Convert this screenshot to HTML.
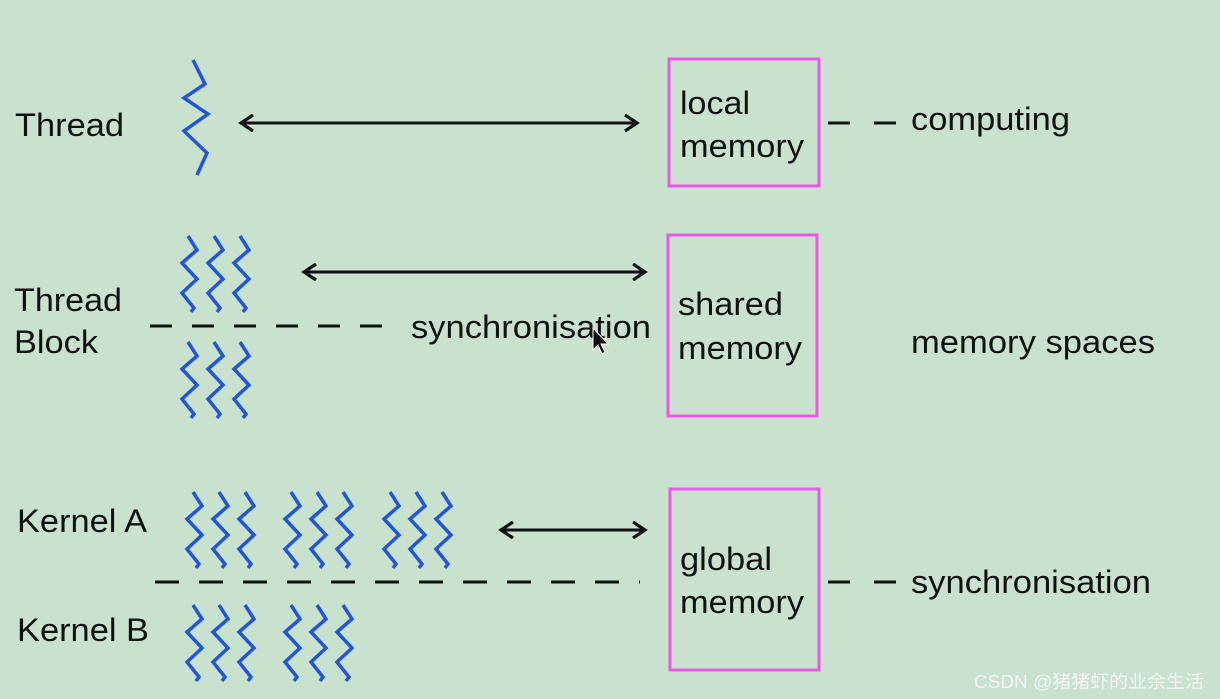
<!DOCTYPE html>
<html><head><meta charset="utf-8"><style>
html,body{margin:0;padding:0;background:#c9e2cd;}
svg{display:block}
text{font-family:"Liberation Sans",Arial,sans-serif;font-size:32px;fill:#111;}
</style></head><body>
<svg width="1220" height="699" viewBox="0 0 1220 699" xmlns="http://www.w3.org/2000/svg">
<defs>
<path id="s" d="M0,0 L9,14 L-6,27 L9,43 L-6,57 L6,72 L3,76" fill="none" stroke="#2255dd" stroke-width="3.5" stroke-linejoin="miter"/>
<marker id="a" markerWidth="16" markerHeight="18" refX="13" refY="9" orient="auto-start-reverse" markerUnits="userSpaceOnUse">
<path d="M1,1 L13,9 L1,17" fill="none" stroke="#111" stroke-width="3.2"/></marker>
</defs>
<rect width="1220" height="699" fill="#c9e2cd"/>
<path d="M193,60 L205,84 L184,98 L208,114 L184,131 L207,153 L197,175" fill="none" stroke="#2255dd" stroke-width="3.5"/>
<g>
<use href="#s" x="188" y="236"/><use href="#s" x="214" y="236"/><use href="#s" x="240" y="236"/>
<use href="#s" x="188" y="342"/><use href="#s" x="214" y="342"/><use href="#s" x="240" y="342"/>
<use href="#s" x="193" y="492"/><use href="#s" x="219" y="492"/><use href="#s" x="245" y="492"/>
<use href="#s" x="291" y="492"/><use href="#s" x="317" y="492"/><use href="#s" x="343" y="492"/>
<use href="#s" x="390" y="492"/><use href="#s" x="416" y="492"/><use href="#s" x="442" y="492"/>
<use href="#s" x="193" y="605"/><use href="#s" x="219" y="605"/><use href="#s" x="245" y="605"/>
<use href="#s" x="291" y="605"/><use href="#s" x="317" y="605"/><use href="#s" x="343" y="605"/>
</g>
<g stroke="#111" stroke-width="3" fill="none">
<line x1="241" y1="123" x2="637" y2="123" marker-start="url(#a)" marker-end="url(#a)"/>
<line x1="304" y1="272" x2="645" y2="272" marker-start="url(#a)" marker-end="url(#a)"/>
<line x1="501" y1="530" x2="645" y2="530" marker-start="url(#a)" marker-end="url(#a)"/>
<line x1="150" y1="326" x2="396" y2="326" stroke-dasharray="22 20"/>
<line x1="155" y1="582" x2="640" y2="582" stroke-dasharray="24 20"/>
<line x1="828" y1="123" x2="898" y2="123" stroke-dasharray="22 24"/>
<line x1="828" y1="582" x2="898" y2="582" stroke-dasharray="22 24"/>
</g>
<g fill="none" stroke="#ee55ee" stroke-width="3">
<rect x="669" y="59" width="150" height="127"/>
<rect x="668" y="235" width="149" height="181"/>
<rect x="670" y="489" width="149" height="181"/>
</g>
<text x="15" y="136" textLength="109" lengthAdjust="spacingAndGlyphs">Thread</text>
<text x="14" y="311" textLength="108" lengthAdjust="spacingAndGlyphs">Thread</text>
<text x="14" y="353" textLength="84" lengthAdjust="spacingAndGlyphs">Block</text>
<text x="17" y="532" textLength="130" lengthAdjust="spacingAndGlyphs">Kernel A</text>
<text x="17" y="641" textLength="132" lengthAdjust="spacingAndGlyphs">Kernel B</text>
<text x="680" y="114" textLength="70" lengthAdjust="spacingAndGlyphs">local</text>
<text x="680" y="157" textLength="124" lengthAdjust="spacingAndGlyphs">memory</text>
<text x="678" y="315" textLength="105" lengthAdjust="spacingAndGlyphs">shared</text>
<text x="678" y="359" textLength="124" lengthAdjust="spacingAndGlyphs">memory</text>
<text x="680" y="570" textLength="92" lengthAdjust="spacingAndGlyphs">global</text>
<text x="680" y="613" textLength="124" lengthAdjust="spacingAndGlyphs">memory</text>
<text x="411" y="338" textLength="240" lengthAdjust="spacingAndGlyphs">synchronisation</text>
<text x="911" y="130" textLength="159" lengthAdjust="spacingAndGlyphs">computing</text>
<text x="911" y="353" textLength="244" lengthAdjust="spacingAndGlyphs">memory spaces</text>
<text x="911" y="593" textLength="240" lengthAdjust="spacingAndGlyphs">synchronisation</text>
<path d="M593,328 L593,350 L598,345 L602,354 L605,352 L601,344 L608,344 Z" fill="#111" stroke="#fff" stroke-width="1"/>
<text x="974" y="688" textLength="230" lengthAdjust="spacingAndGlyphs" style="font-size:18px;fill:#f4f4f4;font-family:'Liberation Sans','Noto Sans CJK SC',sans-serif">CSDN @猪猪虾的业余生活</text>
</svg>
</body></html>
